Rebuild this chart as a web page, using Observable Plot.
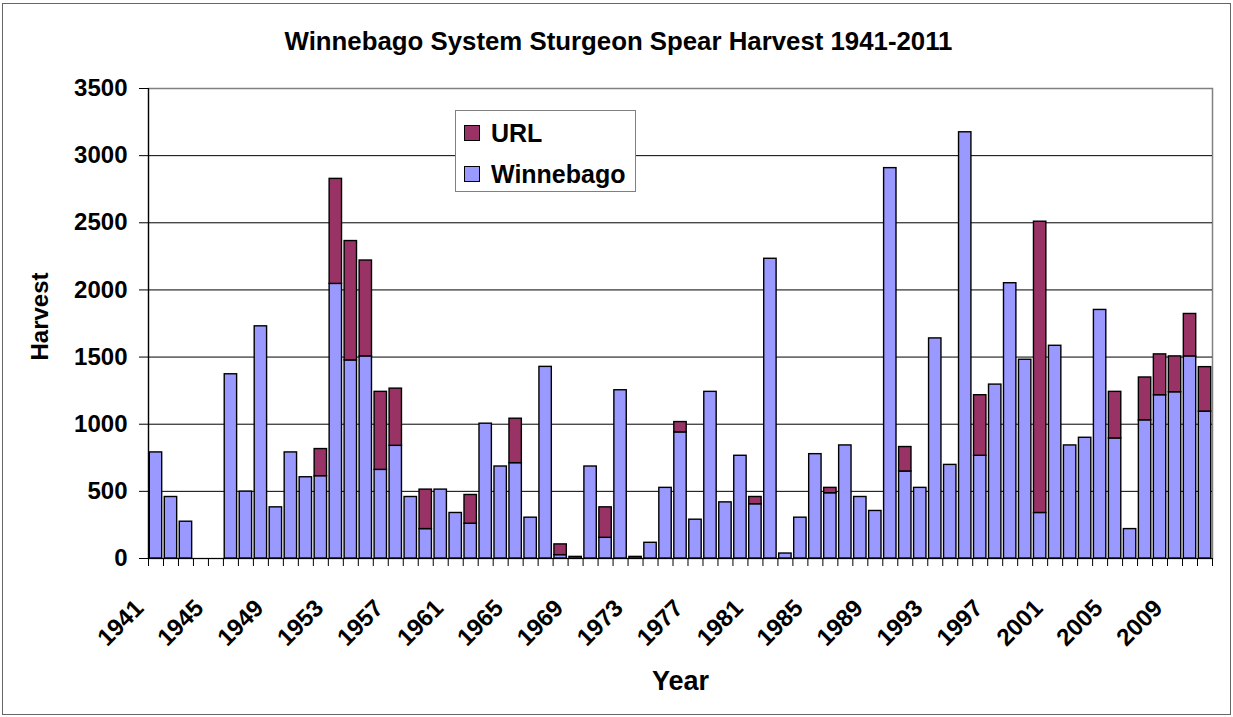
<!DOCTYPE html>
<html>
<head>
<meta charset="utf-8">
<script src="https://cdn.jsdelivr.net/npm/d3@7"></script>
<script src="https://cdn.jsdelivr.net/npm/@observablehq/plot@0.6"></script>
<style>
  html, body { margin: 0; padding: 0; background: #fff; }
  body { width: 1233px; height: 717px; position: relative; overflow: hidden;
         font-family: "Liberation Sans", Arial, sans-serif; font-weight: bold; }
  #frame { position: absolute; left: 2px; top: 3px; width: 1227px; height: 710px;
           border: 1.5px solid #666; }
  #title { position: absolute; left: 0; top: 29px; width: 1237px; text-align: center;
           font-size: 25.8px; line-height: 25px; color: #000; }
  #chart { position: absolute; left: 0; top: 0; }
  #legend { position: absolute; left: 455px; top: 110px; width: 179px; height: 80px;
            border: 1px solid #808080; background: #fff; }
  .sw { position: absolute; width: 14px; height: 14px; border: 1.5px solid #000; }
  .lt { position: absolute; font-size: 25px; line-height: 25px; color: #000; white-space: nowrap; }
</style>
</head>
<body>
<div id="frame"></div>
<div id="chart"></div>
<div id="title">Winnebago System Sturgeon Spear Harvest 1941-2011</div>
<div id="legend"></div>
<script>
const years = [1941,1942,1943,1944,1945,1946,1947,1948,1949,1950,
  1951,1952,1953,1954,1955,1956,1957,1958,1959,1960,
  1961,1962,1963,1964,1965,1966,1967,1968,1969,1970,
  1971,1972,1973,1974,1975,1976,1977,1978,1979,1980,
  1981,1982,1983,1984,1985,1986,1987,1988,1989,1990,
  1991,1992,1993,1994,1995,1996,1997,1998,1999,2000,
  2001,2002,2003,2004,2005,2006,2007,2008,2009,2010,2011];

const winnebago = [790,458,274,0,0,1372,498,1729,381,790,
  605,613,2045,1475,1505,660,839,458,219,513,
  339,259,1004,685,710,304,1427,25,12,685,
  154,1253,12,117,526,939,289,1241,418,765,
  404,2232,37,304,777,486,842,458,354,2907,
  648,526,1639,697,3174,765,1295,2050,1480,339,
  1584,842,899,1851,894,219,1029,1216,1238,1505,1094];

const url = [0,0,0,0,0,0,0,0,0,0,
  0,202,782,889,714,581,426,0,294,0,
  0,214,0,0,331,0,0,80,0,0,
  227,0,0,0,0,77,0,0,0,0,
  54,0,0,0,0,40,0,0,0,0,
  182,0,0,0,0,451,0,0,0,2169,
  0,0,0,0,347,0,319,304,267,316,331];

const seriesNames = ["URL", "Winnebago"];
const seriesColors = ["#993366", "#9999FF"];
const yTicks = [0,500,1000,1500,2000,2500,3000,3500];
const labelYears = [1941,1945,1949,1953,1957,1961,1965,1969,1973,1977,1981,1985,1989,1993,1997,2001,2005,2009];

// stacked table: Winnebago at the bottom, URL on top
const rows = [];
years.forEach((yr, i) => {
  if (winnebago[i] > 0) rows.push({year: yr, series: "Winnebago", y1: 0, y2: winnebago[i]});
  if (url[i] > 0) rows.push({year: yr, series: "URL", y1: winnebago[i], y2: winnebago[i] + url[i]});
});
const boundaries = years.map(y => y - 0.5).concat([years[years.length - 1] + 0.5]);

const chart = Plot.plot({
  width: 1233,
  height: 717,
  marginLeft: 148,
  marginRight: 21,
  marginTop: 88,
  marginBottom: 159,
  style: {fontFamily: "Liberation Sans, Arial, sans-serif", background: "transparent", color: "#000"},
  x: {domain: [years[0] - 0.5, years[years.length - 1] + 0.5], axis: null},
  y: {domain: [0, 3500], axis: null},
  color: {domain: seriesNames, range: seriesColors},
  marks: [
    Plot.frame({stroke: "#808080", strokeWidth: 1.5}),
    Plot.ruleY(yTicks.slice(1, -1), {stroke: "#000", strokeWidth: 1}),
    Plot.rect(rows, {
      x1: d => d.year - 0.5, x2: d => d.year + 0.5, y1: "y1", y2: "y2",
      fill: "series", stroke: "#000", strokeWidth: 1.4, insetLeft: 1.3, insetRight: 1.3
    }),
    Plot.ruleX([years[0] - 0.5], {stroke: "#000", strokeWidth: 1.2}),
    Plot.ruleY([0], {stroke: "#000", strokeWidth: 1.2}),
    Plot.axisY({ticks: yTicks, tickSize: 9, tickPadding: 12, tickFormat: d => String(d),
      fontSize: 24, fontWeight: "bold", label: null}),
    Plot.axisX({ticks: boundaries, tickSize: 8, tickFormat: () => "", label: null}),
    Plot.text(labelYears, {x: d => d, text: d => String(d), frameAnchor: "bottom", rotate: -45, textAnchor: "end",
      lineAnchor: "bottom", dx: -11, dy: 51, fontSize: 24, fontWeight: "bold"}),
    Plot.text(["Year"], {frameAnchor: "bottom", textAnchor: "middle", lineAnchor: "bottom", dy: 131, fontSize: 27, fontWeight: "bold"}),
    Plot.text(["Harvest"], {frameAnchor: "left", rotate: -90, textAnchor: "middle", lineAnchor: "bottom",
      dx: -101, dy: -7, fontSize: 24, fontWeight: "bold"})
  ]
});
document.getElementById("chart").appendChild(chart);

// legend (HTML, placed inside the plot area as in the reference)
const legend = document.getElementById("legend");
const legendTop = [14, 55];
seriesNames.forEach((name, i) => {
  const sw = document.createElement("div");
  sw.className = "sw";
  sw.style.left = "8px";
  sw.style.top = legendTop[i] + "px";
  sw.style.background = seriesColors[i];
  legend.appendChild(sw);
  const t = document.createElement("div");
  t.className = "lt";
  t.style.left = "35px";
  t.style.top = (legendTop[i] - 4) + "px";
  t.textContent = name;
  legend.appendChild(t);
});
</script>
</body>
</html>
